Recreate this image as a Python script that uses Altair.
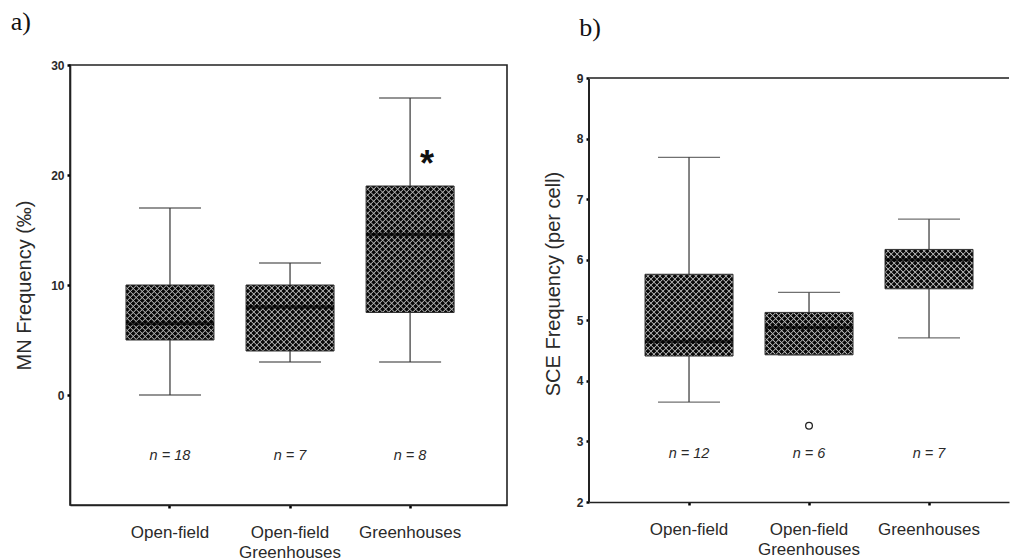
import math
import altair as alt
import pandas as pd

# ---------------- data ----------------
groups = ["Open-field", "Open-field|Greenhouses", "Greenhouses"]

mn_min = [0, 3, 3]
mn_q1 = [5, 4, 7.5]
mn_median = [6.5, 8, 14.6]
mn_q3 = [10, 10, 19]
mn_max = [17, 12, 27]
mn_n = ["n = 18", "n = 7", "n = 8"]
mn_ticks = [0, 10, 20, 30]
mn_star_group = ["Greenhouses"]
mn_star_value = [21.7]

sce_min = [3.65, 4.43, 4.71]
sce_q1 = [4.41, 4.43, 5.52]
sce_median = [4.65, 4.88, 6.0]
sce_q3 = [5.76, 5.13, 6.17]
sce_max = [7.69, 5.46, 6.67]
sce_n = ["n = 12", "n = 6", "n = 7"]
sce_ticks = [2, 3, 4, 5, 6, 7, 8, 9]
sce_out_group = ["Open-field|Greenhouses"]
sce_out_value = [3.26]

SANS = "Liberation Sans"
SERIF = "Liberation Serif"
TXT = "#2a2a2a"
BOX_W = 88


def hatch_fill(w, h, flip, period=6, frac=0.4, color="#b4b4b4"):
    """Cross-hatch texture (style only): soft 45-degree light stripes as a gradient."""
    n = int(math.ceil((w + h) / period))
    span = n * period
    k = span / (w * w + h * h)
    p, q = w * k, h * k
    clear = "rgba(180,180,180,0)"
    stops = []
    for j in range(n):
        a = j / n
        b = (j + 1 - frac) / n
        m = (j + 1 - frac / 2) / n
        c = (j + 1) / n
        stops += [alt.GradientStop(offset=a, color=clear),
                  alt.GradientStop(offset=b, color=clear),
                  alt.GradientStop(offset=m, color=color),
                  alt.GradientStop(offset=c, color=clear)]
    if flip:
        return alt.LinearGradient(gradient="linear", stops=stops, x1=0, y1=1, x2=p, y2=1 - q)
    return alt.LinearGradient(gradient="linear", stops=stops, x1=0, y1=0, x2=p, y2=q)


def panel(title, title_dx, ytitle, title_pad, mins, q1s, meds, q3s, maxs, ns,
          ydomain, yticks, n_at, width, height, pad_outer, align, frame,
          frame_top=None, extra=None):
    df = pd.DataFrame({"group": groups, "lo": mins, "q1": q1s, "med": meds,
                       "q3": q3s, "hi": maxs, "n": ns})
    xscale = alt.Scale(domain=groups, paddingInner=0, paddingOuter=pad_outer, align=align)
    yscale = alt.Scale(domain=ydomain, nice=False, zero=False)
    x = alt.X("group:N", scale=xscale, sort=groups,
              axis=alt.Axis(title=None, labelAngle=0, labelExpr="split(datum.value, '|')",
                            labelFont=SANS, labelFontSize=17, labelColor=TXT,
                            labelPadding=16, labelLineHeight=20, tickSize=3, tickWidth=2.5,
                            tickColor="black", domainColor="#222", domainWidth=1.6,
                            labelBaseline="top"))
    yaxis = alt.Axis(title=ytitle, values=yticks, format="d", titleFont=SANS,
                     titleFontSize=20, titleFontWeight="normal", titleColor=TXT,
                     titlePadding=title_pad, labelFont=SANS, labelFontSize=12,
                     labelFontWeight="bold", labelColor=TXT, labelPadding=3, tickSize=3,
                     tickWidth=2.5, tickColor="black", domain=frame,
                     domainColor="#222", domainWidth=1.6, grid=False)
    base = alt.Chart(df)
    whisk = base.mark_rule(color="#333", strokeWidth=1.2).encode(
        x=x, y=alt.Y("lo:Q", scale=yscale, axis=yaxis), y2="hi:Q")
    caps_lo = base.mark_tick(color="#333", size=62, thickness=1.3, orient="horizontal").encode(
        x="group:N", y="lo:Q")
    caps_hi = base.mark_tick(color="#333", size=62, thickness=1.3, orient="horizontal").encode(
        x="group:N", y="hi:Q")
    box = base.mark_bar(fill="#080808", size=BOX_W).encode(
        x="group:N", y="q1:Q", y2="q3:Q")
    layers = [whisk, caps_lo, caps_hi, box]
    # texture per box
    ppu = height / (ydomain[1] - ydomain[0])
    for g, lo_q, hi_q in zip(groups, q1s, q3s):
        h = (hi_q - lo_q) * ppu
        for flip in (False, True):
            layers.append(
                base.transform_filter(alt.datum.group == g)
                .mark_bar(size=BOX_W, fill=hatch_fill(BOX_W, h, flip))
                .encode(x="group:N", y="q1:Q", y2="q3:Q"))
    outline = base.mark_bar(fillOpacity=0, stroke="#333", strokeWidth=1, size=BOX_W).encode(
        x="group:N", y="q1:Q", y2="q3:Q")
    med = base.mark_tick(color="#000", size=BOX_W, thickness=3.5, orient="horizontal").encode(
        x="group:N", y="med:Q")
    ntext = base.mark_text(font=SANS, fontSize=14.5, fontStyle="italic", color=TXT).encode(
        x="group:N", y=alt.datum(n_at), text="n:N")
    layers += [outline, med, ntext]
    if extra is not None:
        layers += extra
    if not frame:
        left = alt.Chart(df).mark_rule(color="#222", strokeWidth=1.6).encode(
            x=alt.value(0), y=alt.datum(ydomain[0]), y2=alt.datum(frame_top))
        top = alt.Chart(df).mark_rule(color="#555", strokeWidth=2.2).encode(
            x=alt.value(0), x2=alt.value(width), y=alt.datum(frame_top))
        layers += [left, top]
    ch = alt.layer(*layers).properties(
        width=width, height=height,
        title=alt.TitleParams(title, anchor="start", font=SERIF, fontSize=26,
                              fontWeight="normal", color="#111", offset=24,
                              dx=title_dx, frame="bounds"),
        view=alt.ViewBackground(stroke="#222" if frame else None, strokeWidth=1.6))
    return ch


star_df = pd.DataFrame({"group": mn_star_group, "v": mn_star_value})
star = alt.Chart(star_df).mark_text(text="*", fontSize=36, fontWeight="bold",
                                    font=SANS, color="#111", dx=17, dy=9).encode(
    x="group:N", y="v:Q")

out_df = pd.DataFrame({"group": sce_out_group, "v": sce_out_value})
outl = alt.Chart(out_df).mark_point(shape="circle", filled=False, size=45,
                                    color="#222", strokeWidth=1.3, opacity=1).encode(
    x="group:N", y="v:Q")

pa = panel("a)", -4, "MN Frequency (‰)", 16, mn_min, mn_q1, mn_median, mn_q3, mn_max,
           mn_n, [-10, 30], mn_ticks, -5.5, 437, 440, 0.32, 0.52, True, extra=[star])
pb = panel("b)", 36, "SCE Frequency (per cell)", 13, sce_min, sce_q1, sce_median,
           sce_q3, sce_max, sce_n, [2, 9.215], sce_ticks, 2.79, 420, 437, 0.25, 0.667,
           False, frame_top=9, extra=[outl])

chart = alt.hconcat(pa, pb, spacing=35).properties(
    padding={"left": 1, "top": 0, "right": 0, "bottom": 0}
).configure(background="white").configure_view(strokeWidth=1.6)

chart.save("out.html", embed_options={"renderer": "svg", "actions": False})
